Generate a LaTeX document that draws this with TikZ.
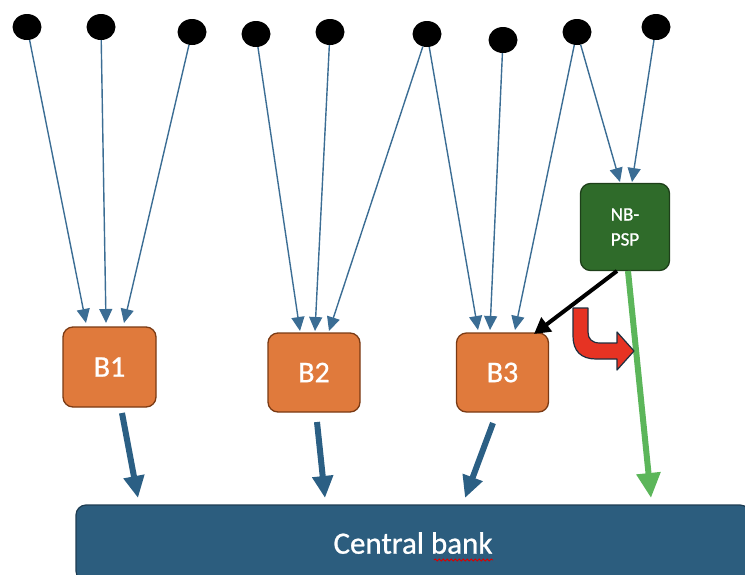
\documentclass[tikz,border=0pt]{standalone}
\usepackage{fontspec}
\setmainfont{Carlito}
\newfontfamily\lblfont{Carlito}[FakeBold=0.8]
\usetikzlibrary{arrows.meta,shapes.geometric,decorations.pathmorphing}
\definecolor{thinblue}{RGB}{59,109,148}
\definecolor{thickblue}{RGB}{43,95,132}
\definecolor{orangefill}{RGB}{224,122,60}
\definecolor{orangeline}{RGB}{122,58,20}
\definecolor{greenfill}{RGB}{47,107,42}
\definecolor{greenline}{RGB}{30,63,26}
\definecolor{lightgreen}{RGB}{92,182,90}
\definecolor{cbfill}{RGB}{44,93,126}
\definecolor{cbline}{RGB}{29,60,82}
\definecolor{redfill}{RGB}{230,51,35}
\definecolor{redline}{RGB}{31,47,63}
\begin{document}
\begin{tikzpicture}[x=1pt,y=-1pt,
  dotn/.style={ellipse,fill=black,minimum width=29pt,minimum height=26pt,inner sep=0pt},
  bankbox/.style={draw=orangeline,fill=orangefill,line width=1.3pt,rounded corners=10pt,
    minimum width=92pt,minimum height=79pt,inner sep=0pt,text=white,
    font=\lblfont\fontsize{30}{32}\selectfont},
  nbbox/.style={draw=greenline,fill=greenfill,line width=1.3pt,rounded corners=10pt,
    minimum width=89pt,minimum height=87pt,inner sep=0pt,text=white,align=center,
    font=\lblfont\fontsize{19}{25}\selectfont},
  cbbox/.style={draw=cbline,fill=cbfill,line width=1.2pt,rounded corners=10pt,
    minimum width=674pt,minimum height=76pt,inner sep=0pt,text=white,
    font=\lblfont\fontsize{31}{34}\selectfont},
  thinarrow/.style={draw=thinblue,line width=1.4pt,-{Triangle[length=14pt,width=13pt]}},
  thickarrow/.style={draw=thickblue,line width=6pt,-{Triangle[length=22pt,width=20pt]}},
  greenarrow/.style={draw=lightgreen,line width=6pt,-{Triangle[length=25pt,width=23pt]}},
  blackarrow/.style={draw=black,line width=4pt,-{Triangle[length=16pt,width=17pt]}}
]
\useasboundingbox (0,0) rectangle (745,574);
\clip (0,0) rectangle (745,574);

% dots
\node[dotn] (d1) at (27,27) {};
\node[dotn] (d2) at (101,27) {};
\node[dotn] (d3) at (192,32) {};
\node[dotn] (d4) at (256,34) {};
\node[dotn] (d5) at (330,32) {};
\node[dotn] (d6) at (427,34) {};
\node[dotn] (d7) at (503,40) {};
\node[dotn] (d8) at (577,32) {};
\node[dotn] (d9) at (656,27) {};

% boxes
\node[bankbox,minimum width=93pt,minimum height=80pt] (B1) at (109.5,367) {B1};
\node[bankbox] (B2) at (314,372.5) {B2};
\node[bankbox] (B3) at (502.5,372.5) {B3};
\node[nbbox] (NB) at (625,227) {NB-\\PSP};
\node[cbbox] (CB) at (413,543) {Central bank};

% wavy underline under "bank"
\draw[red!85!black,line width=0.9pt,decorate,decoration={snake,amplitude=1pt,segment length=4pt}]
  (434,560) -- (493,560);

% arrow end coordinates
\coordinate (t11) at (86,323);
\coordinate (t12) at (106,323);
\coordinate (t13) at (124,323);
\coordinate (t21) at (300,331);
\coordinate (t22) at (315,331);
\coordinate (t23) at (329,331);
\coordinate (t31) at (478,330);
\coordinate (t32) at (490,330);
\coordinate (t33) at (515,330);
\coordinate (tn1) at (620,182);
\coordinate (tn2) at (632,182);

% thin arrows
\draw[thinarrow] (d1) -- (t11);
\draw[thinarrow] (d2) -- (t12);
\draw[thinarrow] (d3) -- (t13);
\draw[thinarrow] (d4) -- (t21);
\draw[thinarrow] (d5) -- (t22);
\draw[thinarrow] (d6) -- (t23);
\draw[thinarrow] (d6) -- (t31);
\draw[thinarrow] (d7) -- (t32);
\draw[thinarrow] (d8) -- (t33);
\draw[thinarrow] (d8) -- (tn1);
\draw[thinarrow] (d9) -- (tn2);

% thick arrows to central bank
\coordinate (s1) at (122,413);
\coordinate (e1) at (138,498);
\coordinate (s2) at (317,422);
\coordinate (e2) at (325,498);
\coordinate (s3) at (493,423);
\coordinate (e3) at (465,498);
\coordinate (sg) at (628,271);
\coordinate (eg) at (651,498);
\coordinate (sb) at (617,271);
\coordinate (eb) at (534,334);
\draw[thickarrow] (s1) -- (e1);
\draw[thickarrow] (s2) -- (e2);
\draw[thickarrow] (s3) -- (e3);
\draw[greenarrow] (sg) -- (eg);
\draw[blackarrow] (sb) -- (eb);

% red bent arrow
\filldraw[fill=redfill,draw=redline,line width=1.2pt,line join=round]
  (573,308) -- (573,336) .. controls (573,351) and (581,359) .. (596,359)
  -- (617,359) -- (617,370) -- (634,351) -- (617,332) -- (617,343)
  -- (600,343) .. controls (592,343) and (588,339) .. (588,332) -- (588,308) -- cycle;
\end{tikzpicture}
\end{document}
